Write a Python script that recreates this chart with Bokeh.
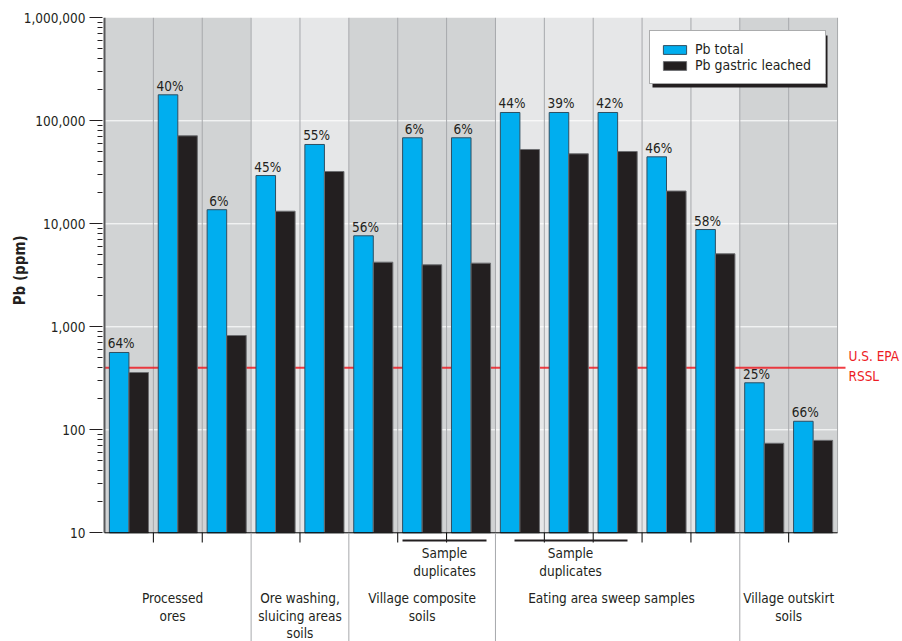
from bokeh.plotting import figure
from bokeh.models import (Range1d, FixedTicker, NumeralTickFormatter, Legend, LegendItem)
from bokeh.core.properties import value
from bokeh.embed import file_html
from bokeh.resources import INLINE

# ---------------- data ----------------
pb_total = [563, 178800, 13700, 29400, 58900, 7650, 68400, 68400,
            120400, 120400, 120400, 44700, 8800, 286, 121]
pb_leached = [360, 71500, 823, 13250, 32200, 4240, 4000, 4150,
              52650, 47840, 50350, 20800, 5115, 74, 79]
pct_labels = ["64%", "40%", "6%", "45%", "55%", "56%", "6%", "6%",
              "44%", "39%", "42%", "46%", "58%", "25%", "66%"]
group_names = [["Processed", "ores"],
               ["Ore washing,", "sluicing areas", "soils"],
               ["Village composite", "soils"],
               ["Eating area sweep samples"],
               ["Village outskirt", "soils"]]
group_spans = [(0, 3), (3, 5), (5, 8), (8, 13), (13, 15)]
dup_label = ["Sample", "duplicates"]
rssl = 400
rssl_label = ["U.S. EPA", "RSSL"]
yticks = [10, 100, 1000, 10000, 100000, 1000000]

# ---------------- style / layout ----------------
FONT = "DejaVu Sans Condensed"
FS = "13.5px"
TXT = "#231f20"
BLUE = "#00aeef"
BLACK = "#231f20"
BG = ["#d1d3d4", "#e6e7e8", "#d1d3d4", "#e6e7e8", "#d1d3d4"]
COLLINE = "#a7a9ac"
RED = "#ed1c24"

W, H = 902, 641
LEFT = 102        # page x of the plot frame's left edge
COLW = 48.87      # pixels per sample column
X0 = 104          # page x of the first column edge
Y6 = 17.3         # page y of 1,000,000
DEC = 103.0       # pixels per decade


def lx(X):  # page pixel -> column units (layout helper for annotations)
    return (X - X0) / COLW


def ly(Y):  # page pixel -> log value (layout helper for annotations)
    return 10 ** (6 - (Y - Y6) / DEC)


n = len(pb_total)
p = figure(width=W, height=H, x_range=Range1d(lx(LEFT), lx(W)),
           y_range=Range1d(ly(H), ly(0)), y_axis_type="log", x_axis_location=None,
           output_backend="svg", toolbar_location=None,
           min_border_left=LEFT, min_border_right=0, min_border_top=0, min_border_bottom=0)
p.outline_line_color = None
p.xgrid.visible = False
p.ygrid.visible = False

# group backgrounds
p.quad(left=[s for s, e in group_spans], right=[e for s, e in group_spans],
       bottom=yticks[0], top=yticks[-1], fill_color=BG, line_color=None)

# white decade grid lines
p.segment(x0=0, x1=n, y0=yticks[1:-1], y1=yticks[1:-1], line_color="white", line_width=1)
# column separators
p.segment(x0=list(range(1, n + 1)), x1=list(range(1, n + 1)), y0=yticks[0], y1=yticks[-1],
          line_color=COLLINE, line_width=1)

# RSSL line (behind bars), running a little past the plot edge
p.segment(x0=[0], x1=[lx(845)], y0=[rssl], y1=[rssl], line_color=RED,
          line_width=2, line_alpha=0.85)

# bars
xc = [i + 0.5 for i in range(n)]
rb = p.vbar(x=[c - 0.2 for c in xc], top=pb_total, bottom=yticks[0], width=0.4,
            fill_color=BLUE, line_color="#2f4f62", line_width=1)
rk = p.vbar(x=[c + 0.2 for c in xc], top=pb_leached, bottom=yticks[0], width=0.4,
            fill_color=BLACK, line_color="#6d6e71", line_width=1)

# percent labels
p.text(x=[c - 0.2 for c in xc], y=pb_total, text=pct_labels, text_align="center",
       text_baseline="bottom", x_offset=2, y_offset=-1,
       text_font=value(FONT), text_font_size=FS, text_color=TXT)

# axis lines
p.segment(x0=[0], x1=[0], y0=[yticks[0]], y1=[yticks[-1]], line_color="#58595b", line_width=2)
p.segment(x0=[0], x1=[n], y0=[yticks[0]], y1=[yticks[0]], line_color="black", line_width=1)

# y axis
ya = p.yaxis[0]
ya.ticker = FixedTicker(ticks=yticks,
                        minor_ticks=[m * 10 ** e for e in range(1, 6) for m in range(2, 10)])
ya.formatter = NumeralTickFormatter(format="0,0")
ya.axis_line_color = None
ya.major_tick_out = 13
ya.major_tick_in = 0
ya.minor_tick_out = 5
ya.minor_tick_in = 0
ya.major_label_standoff = 4
ya.major_tick_line_color = TXT
ya.minor_tick_line_color = TXT
ya.major_label_text_font = FONT
ya.major_label_text_font_size = FS
ya.major_label_text_color = TXT
# leading em spaces lift the label to the middle of the 10 - 1,000,000 span
ya.axis_label = "\u2003" * 7 + "\u2002" + "Pb (ppm)"
ya.axis_label_text_font = FONT
ya.axis_label_text_font_size = "15px"
ya.axis_label_text_font_style = "bold"
ya.axis_label_text_color = TXT
ya.axis_label_standoff = -8

# bottom ticks at column boundaries that are not group boundaries
bounds = [s for s, e in group_spans][1:]
xt = [i for i in range(1, n) if i not in bounds]
p.segment(x0=xt, x1=xt, y0=yticks[0], y1=ly(542), line_color="black", line_width=1)

# group separators extending below the axis
p.segment(x0=bounds, x1=bounds, y0=yticks[0], y1=ly(H + 5), line_color=COLLINE, line_width=1)

# group labels
group_x = [lx(172), 4.0, 6.5, lx(611), 14.0]
line_y = [ly(597), ly(615.5), ly(632)]
gx, gy, gt = [], [], []
for cx, lines in zip(group_x, group_names):
    for j, t in enumerate(lines):
        gx.append(cx)
        gy.append(line_y[j])
        gt.append(t)
p.text(x=gx, y=gy, text=gt, text_align="center", text_baseline="middle",
       text_font=value(FONT), text_font_size=FS, text_color=TXT)

# sample duplicates
dup_line = [(lx(402), lx(486)), (lx(514), lx(627))]
dup_x = [lx(444), lx(570)]
p.segment(x0=[a for a, b in dup_line], x1=[b for a, b in dup_line], y0=ly(540), y1=ly(540),
          line_color=TXT, line_width=2)
p.text(x=[dup_x[0], dup_x[0], dup_x[1], dup_x[1]], y=[ly(552), ly(570)] * 2,
       text=dup_label * 2, text_align="center", text_baseline="middle",
       text_font=value(FONT), text_font_size=FS, text_color=TXT)

# RSSL label
p.text(x=[lx(848)] * 2, y=[ly(355), ly(375.5)], text=rssl_label, text_align="left",
       text_baseline="middle", text_font=value(FONT), text_font_size=FS, text_color=RED)

# legend with drop shadow
p.quad(left=[lx(652)], right=[lx(827)], top=[ly(35)], bottom=[ly(87)],
       fill_color=BLACK, line_color=None)
legend = Legend(items=[LegendItem(label="Pb total", renderers=[rb]),
                       LegendItem(label="Pb gastric leached", renderers=[rk])],
                location=(649 - LEFT, H - 84), padding=10, spacing=0, margin=0,
                glyph_width=29, glyph_height=11, label_standoff=6, label_width=120,
                label_text_font=FONT, label_text_font_size="14px", label_text_color=TXT,
                border_line_color="#58595b", border_line_width=1,
                background_fill_color="white", background_fill_alpha=1)
p.add_layout(legend)

open("out.html", "w").write(file_html(p, INLINE))
